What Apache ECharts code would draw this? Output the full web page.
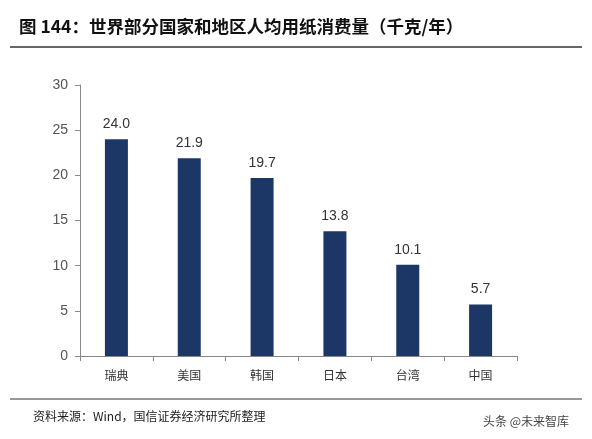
<!DOCTYPE html>
<html><head><meta charset="utf-8">
<script src="https://cdn.jsdelivr.net/npm/echarts@6/dist/echarts.min.js"></script>
<style>html,body{margin:0;padding:0;background:#fff}#c{width:592px;height:439px}</style>
</head><body><div id="c"></div>
<script>
const categories = ['瑞典', '美国', '韩国', '日本', '台湾', '中国'];
const values = [24.0, 21.9, 19.7, 13.8, 10.1, 5.7];

const chart = echarts.init(document.getElementById('c'));
chart.setOption({
  animation: false,
  title: [{
    text: '图 144：世界部分国家和地区人均用纸消费量（千克/年）',
    left: 14, top: 13,
    textStyle: {fontSize: 17.5, fontWeight: 'bold', color: '#111', fontFamily: 'Noto Sans CJK SC'}
  }, {
    text: '资料来源：Wind，国信证券经济研究所整理',
    left: 28, top: 405,
    textStyle: {fontSize: 12, fontWeight: 'normal', color: '#222', fontFamily: 'Noto Sans CJK SC'}
  }, {
    text: '头条 @未来智库',
    right: 18, top: 410,
    textStyle: {fontSize: 12, fontWeight: 'normal', color: '#444', fontFamily: 'Noto Sans CJK SC'}
  }],
  graphic: [
    {type: 'line', shape: {x1: 10, y1: 47, x2: 582, y2: 47}, style: {stroke: '#333', lineWidth: 1.5}},
    {type: 'line', shape: {x1: 10, y1: 399, x2: 582, y2: 399}, style: {stroke: '#333', lineWidth: 1}}
  ],
  grid: {left: 80, right: 75, top: 85, bottom: 83},
  xAxis: {
    type: 'category', data: categories,
    axisLine: {lineStyle: {color: '#888'}},
    axisTick: {show: true, alignWithLabel: false, lineStyle: {color: '#888'}},
    axisLabel: {color: '#333', fontSize: 12, margin: 13, fontFamily: 'Noto Sans CJK SC'}
  },
  yAxis: {
    type: 'value', min: 0, max: 30, interval: 5,
    axisLine: {show: true, lineStyle: {color: '#888'}},
    axisTick: {show: true, lineStyle: {color: '#888'}},
    splitLine: {show: false},
    axisLabel: {color: '#555', fontSize: 14, margin: 12, fontFamily: 'Liberation Sans'}
  },
  series: [{
    type: 'bar', data: values, barWidth: 23,
    itemStyle: {color: '#1c3766'},
    label: {show: true, position: 'top', distance: 8, color: '#333', fontSize: 14,
      fontFamily: 'Liberation Sans', formatter: p => p.value.toFixed(1)}
  }]
});
</script></body></html>
